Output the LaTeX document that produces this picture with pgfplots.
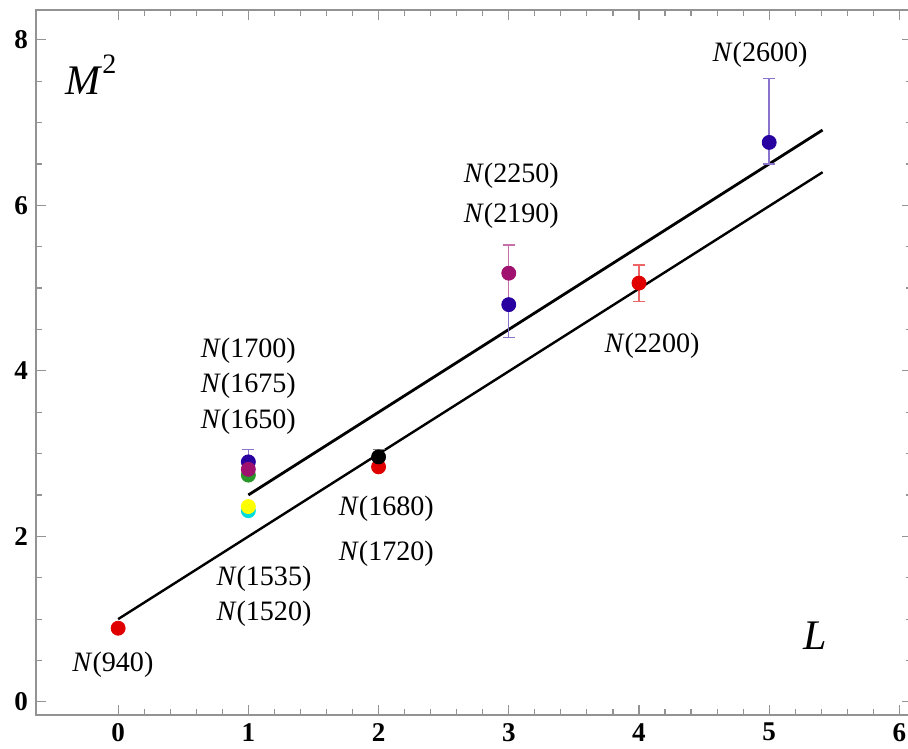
\documentclass[border=0pt]{standalone}
\usepackage{fontspec}
\setmainfont{Liberation Serif}
\usepackage{pgfplots}
\pgfplotsset{compat=1.18}
\definecolor{cred}{RGB}{225,0,0}
\definecolor{cblue}{RGB}{40,0,160}
\definecolor{cpurple}{RGB}{160,16,110}
\definecolor{cgreen}{RGB}{40,150,40}
\definecolor{cyellow}{RGB}{255,255,0}
\definecolor{ccyan}{RGB}{0,220,220}
\newcommand{\lab}[1]{\textit{N}(#1)}
\begin{document}
\begin{tikzpicture}
\begin{axis}[
  scale only axis, width=436.8pt, height=351.45pt,
  xmin=-0.63, xmax=6.1, ymin=-0.16, ymax=8.36,
  xtick={0,1,2,3,4,5,6}, ytick={0,2,4,6,8},
  minor x tick num=4, minor y tick num=3,
  tick align=inside,
  major tick length=5pt, minor tick length=3pt,
  axis line style={gray!85, line width=0.8pt},
  every tick/.style={gray!85, line width=0.6pt},
  /pgf/number format/assume math mode=true,
  ticklabel style={font=\bfseries\fontsize{13.5}{15}\selectfont, text=black},
  xticklabel style={yshift=-0.5pt},
  yticklabel style={xshift=-0.5pt},
  clip=false,
]
% lines
\addplot[black, line width=1.4pt] coordinates {(1,2.50) (5.41,6.91)};
\addplot[black, line width=1.2pt] coordinates {(0,1.00) (5.41,6.40)};
% error bars
\addplot[only marks, mark=none, error bars/.cd, y dir=both, y explicit,
  error bar style={cblue!55, line width=0.7pt},
  error mark options={rotate=90, cblue!55, mark size=3pt, line width=0.7pt}]
  coordinates {(1,2.90) +- (0,0.15) (3,4.80) +- (0,0.40) (5,6.76) += (0,0.77) -= (0,0.26)};
\addplot[only marks, mark=none, error bars/.cd, y dir=both, y explicit,
  error bar style={cpurple!60, line width=0.7pt},
  error mark options={rotate=90, cpurple!60, mark size=3pt, line width=0.7pt}]
  coordinates {(3,5.18) +- (0,0.34)};
\addplot[only marks, mark=none, error bars/.cd, y dir=both, y explicit,
  error bar style={cred!60, line width=0.7pt},
  error mark options={rotate=90, cred!60, mark size=3pt, line width=0.7pt}]
  coordinates {(4,5.06) +- (0,0.22)};
\addplot[only marks, mark=none, error bars/.cd, y dir=both, y explicit,
  error bar style={gray, line width=0.7pt},
  error mark options={rotate=90, gray, mark size=3pt, line width=0.7pt}]
  coordinates {(2,2.96) +- (0,0.09)};
% points
\addplot[only marks, mark=*, mark size=3.5pt, ccyan] coordinates {(1,2.31)};
\addplot[only marks, mark=*, mark size=3.5pt, cyellow] coordinates {(1,2.36)};
\addplot[only marks, mark=*, mark size=3.5pt, cgreen] coordinates {(1,2.74)};
\addplot[only marks, mark=*, mark size=3.5pt, cblue] coordinates {(1,2.90) (3,4.80) (5,6.76)};
\addplot[only marks, mark=*, mark size=3.5pt, cpurple] coordinates {(1,2.81) (3,5.18)};
\addplot[only marks, mark=*, mark size=3.5pt, cred] coordinates {(0,0.89) (2,2.84) (4,5.06)};
\addplot[only marks, mark=*, mark size=3.5pt, black] coordinates {(2,2.96)};
% labels
\begin{scope}[every node/.style={font=\fontsize{14}{16}\selectfont, inner sep=0pt}]
\node at (axis cs:4.93,7.82) {\lab{2600}};
\node at (axis cs:3.02,6.36) {\lab{2250}};
\node at (axis cs:3.02,5.88) {\lab{2190}};
\node at (axis cs:1.0,4.24) {\lab{1700}};
\node at (axis cs:1.0,3.82) {\lab{1675}};
\node at (axis cs:1.0,3.39) {\lab{1650}};
\node at (axis cs:4.10,4.30) {\lab{2200}};
\node at (axis cs:2.06,2.33) {\lab{1680}};
\node at (axis cs:2.06,1.79) {\lab{1720}};
\node at (axis cs:1.12,1.49) {\lab{1535}};
\node at (axis cs:1.12,1.07) {\lab{1520}};
\node at (axis cs:-0.04,0.45) {\lab{940}};
\end{scope}
\node[font=\fontsize{21}{24}\selectfont, inner sep=0pt] at (axis cs:-0.21,7.58) {\textit{M}\raisebox{0.5em}{\fontsize{14}{14}\selectfont 2}};
\node[font=\fontsize{21}{24}\selectfont, inner sep=0pt] at (axis cs:5.35,0.80) {\textit{L}};
\end{axis}
\pgfresetboundingbox
\path[use as bounding box] ([shift={(-18pt,-16.5pt)}]current axis.south west) rectangle ([shift={(-2.2pt,5pt)}]current axis.north east);
\end{tikzpicture}
\end{document}
